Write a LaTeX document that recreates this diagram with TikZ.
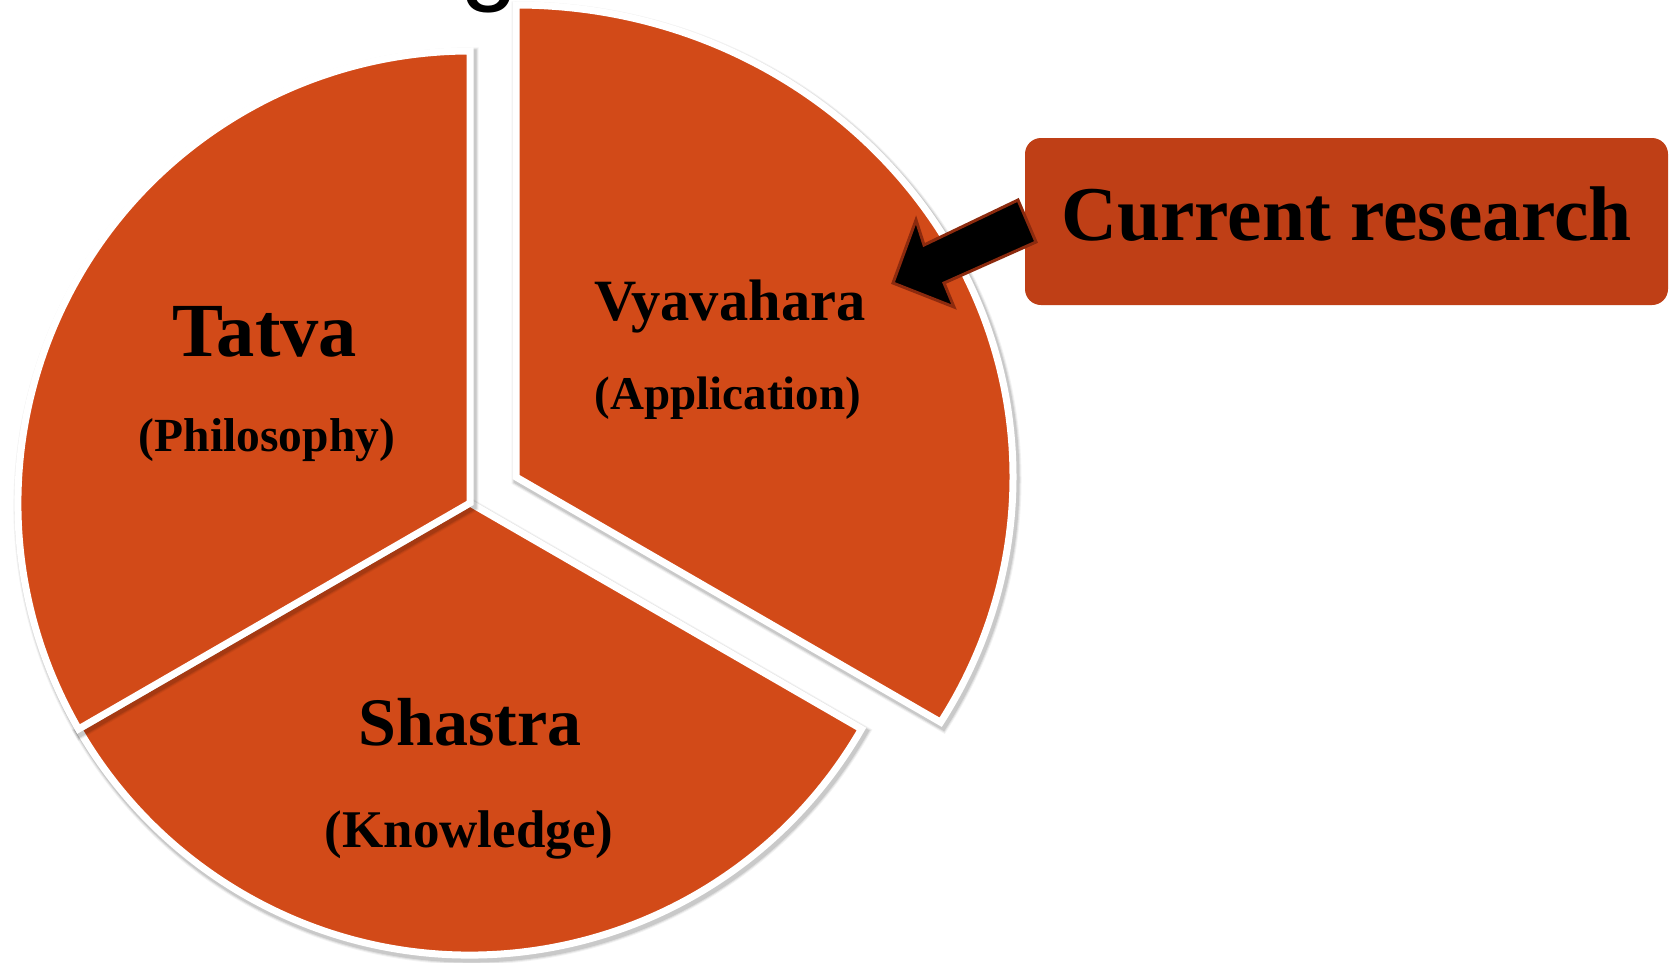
\documentclass[tikz,border=0pt]{standalone}
\usepackage{fontspec}
\setmainfont{Liberation Serif}
\newfontfamily\titlefont{Liberation Sans}
\usetikzlibrary{calc}

\definecolor{sliceorange}{RGB}{210,74,24}
\definecolor{boxorange}{RGB}{191,63,22}
\definecolor{arrowedge}{RGB}{140,42,14}

% slice outlines (pixel-like units, y grows downwards)
\newcommand\tatvapath{(470,503) -- ++(150:452) arc[start angle=150,end angle=270,radius=452] -- cycle}
\newcommand\shastrapath{(470,503) -- ++(30:452) arc[start angle=30,end angle=150,radius=452] -- cycle}
\newcommand\vyavapath{(516,477) -- ++(-90:472) arc[start angle=-90,end angle=31.3,x radius=497,y radius=472] -- cycle}

\newcommand\softshadow[1]{%
  \foreach \w/\o in {9/0.10,11/0.07,13/0.05}{%
    \path[draw=black,line width=\w,opacity=\o,line join=miter,shift={(2,3)}] #1;}}

\tikzset{
  slice/.style={fill=sliceorange,draw=white,line width=7,line join=miter},
  biglabel/.style={anchor=base,inner sep=0pt,font=\bfseries\fontsize{#1}{#1}\selectfont},
  sublabel/.style={anchor=base,inner sep=0pt,font=\bfseries\fontsize{#1}{#1}\selectfont},
  box/.style={fill=boxorange,rounded corners=16,minimum width=643,minimum height=167,
    inner sep=0pt,text height=52,text depth=15,font=\bfseries\fontsize{77.5}{77.5}\selectfont},
  blockarrow/.style={fill=black,draw=arrowedge,line width=3,line join=miter}
}

\begin{document}
\begin{tikzpicture}[x=1pt,y=-1pt]
\useasboundingbox (0,0) rectangle (1670,962);
\clip (0,0) rectangle (1670,962);
\fill[white] (0,0) rectangle (1670,962);

% descender of the heading above, cut by the frame
\node[anchor=base,inner sep=0pt,font=\titlefont\fontsize{104}{104}\selectfont] (heading) at (489,-9) {g};

% pie slices
\softshadow{\shastrapath}
\path[slice] \shastrapath;
\softshadow{\tatvapath}
\path[slice] \tatvapath;
\softshadow{\vyavapath}
\path[slice] \vyavapath;

% slice labels
\node[biglabel=76.5] (tatva) at (265,356) {Tatva};
\node[sublabel=47.5] (philo) at (267,451) {(Philosophy)};
\node[biglabel=58.5] (vyava) at (730,320) {Vyavahara};
\node[sublabel=47] (appl) at (728,409) {(Application)};
\node[biglabel=68] (shastra) at (470,745) {Shastra};
\node[sublabel=53] (know) at (469,847) {(Knowledge)};

% callout box
\node[box] (cr) at (1346.5,221.5) {Current research};

% block arrow from the callout to the application slice
\coordinate (tailtop) at (1018,200);
\coordinate (notchup) at (924,245);
\coordinate (barbup) at (916,220);
\coordinate (tip) at (893,283);
\coordinate (barblow) at (954,307);
\coordinate (notchlow) at (944,283);
\coordinate (tailbot) at (1036,242);
\path[blockarrow] (tailtop) -- (notchup) -- (barbup) -- (tip) -- (barblow) -- (notchlow) -- (tailbot) -- cycle;
\end{tikzpicture}
\end{document}
